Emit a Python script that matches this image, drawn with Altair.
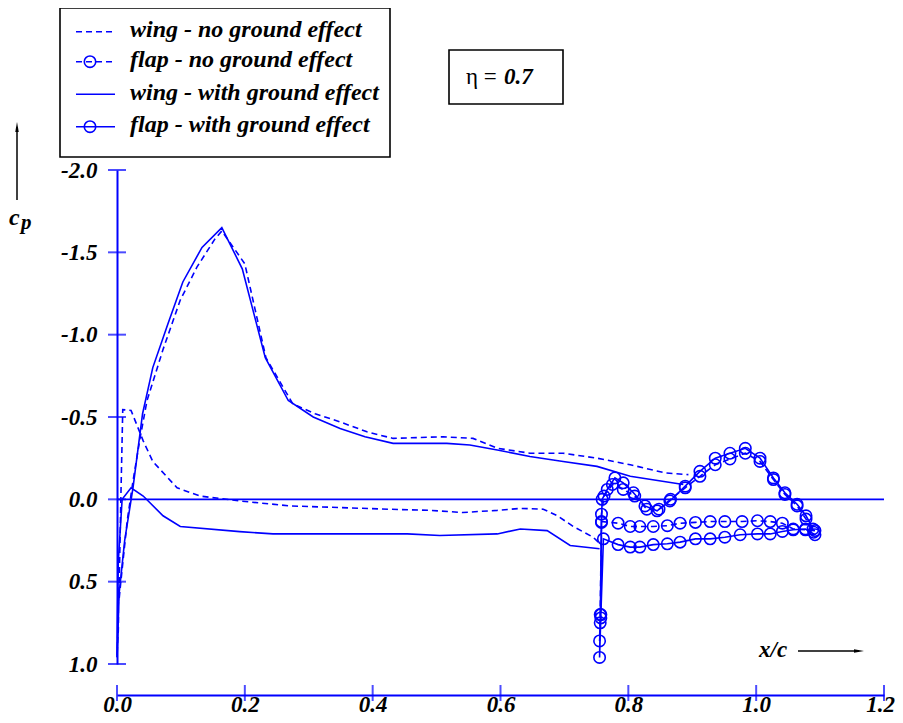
import altair as alt
import pandas as pd

# ---------------- data ----------------
wing_noge_x = [0.753, 0.745, 0.714, 0.689, 0.667, 0.631, 0.595, 0.541, 0.490, 0.424, 0.349, 0.271,
               0.192, 0.130, 0.094, 0.056, 0.041, 0.022, 0.009, 0.006, 0.002, 0.0, 0.003, 0.006,
               0.016, 0.025, 0.036, 0.047, 0.072, 0.099, 0.125, 0.153, 0.164, 0.200, 0.233, 0.275,
               0.310, 0.349, 0.391, 0.432, 0.510, 0.557, 0.595, 0.646, 0.698, 0.751, 0.803, 0.858, 0.894]
wing_noge_cp = [0.26, 0.23, 0.165, 0.10, 0.06, 0.055, 0.067, 0.08, 0.067, 0.06, 0.05, 0.04,
                0.01, -0.02, -0.07, -0.23, -0.355, -0.54, -0.545, 0.0, 0.80, 0.96, 0.62, 0.50,
                0.13, -0.11, -0.37, -0.60, -0.91, -1.21, -1.41, -1.58, -1.63, -1.43, -0.86, -0.58,
                -0.52, -0.47, -0.41, -0.37, -0.38, -0.37, -0.31, -0.28, -0.28, -0.25, -0.21, -0.16, -0.15]

wing_ge_x = [0.755, 0.709, 0.673, 0.631, 0.595, 0.505, 0.454, 0.349, 0.244, 0.192, 0.099, 0.072,
             0.041, 0.022, 0.008, 0.002, 0.0, 0.002, 0.012, 0.025, 0.040, 0.056, 0.080, 0.103,
             0.133, 0.164, 0.196, 0.232, 0.268, 0.307, 0.349, 0.388, 0.432, 0.471, 0.516, 0.552,
             0.595, 0.646, 0.698, 0.751, 0.803, 0.886]
wing_ge_cp = [0.30, 0.28, 0.19, 0.18, 0.21, 0.22, 0.21, 0.21, 0.21, 0.196, 0.165, 0.10,
              -0.02, -0.07, 0.0, 0.38, 0.95, 0.62, 0.25, -0.07, -0.52, -0.80, -1.07, -1.32,
              -1.53, -1.65, -1.40, -0.86, -0.60, -0.50, -0.43, -0.38, -0.34, -0.34, -0.34, -0.33,
              -0.30, -0.26, -0.23, -0.20, -0.14, -0.09]

flap_noge_x = [1.092, 1.077, 1.058, 1.041, 1.022, 1.002, 0.978, 0.951, 0.928, 0.905, 0.881, 0.861,
               0.839, 0.818, 0.803, 0.784, 0.758, 0.757, 0.755, 0.756, 0.758, 0.762, 0.775, 0.792,
               0.810, 0.829, 0.848, 0.866, 0.889, 0.912, 0.936, 0.959, 0.983, 1.006, 1.027, 1.045,
               1.064, 1.078, 1.090]
flap_noge_cp = [0.19, 0.185, 0.18, 0.145, 0.135, 0.13, 0.135, 0.135, 0.135, 0.14, 0.145, 0.16,
                0.165, 0.165, 0.165, 0.145, 0.135, 0.72, 0.86, 0.70, 0.09, -0.02, -0.09, -0.06,
                -0.02, 0.06, 0.06, 0.0, -0.07, -0.14, -0.21, -0.245, -0.28, -0.23, -0.12, -0.03,
                0.04, 0.12, 0.20]

flap_ge_x = [1.092, 1.077, 1.058, 1.041, 1.022, 1.002, 0.975, 0.951, 0.928, 0.905, 0.881, 0.861,
             0.839, 0.818, 0.803, 0.784, 0.761, 0.757, 0.755, 0.756, 0.758, 0.759, 0.767, 0.779,
             0.792, 0.808, 0.826, 0.845, 0.865, 0.889, 0.912, 0.936, 0.959, 0.983, 1.006, 1.027,
             1.045, 1.064, 1.078, 1.089]
flap_ge_cp = [0.215, 0.18, 0.185, 0.195, 0.21, 0.21, 0.215, 0.23, 0.24, 0.24, 0.26, 0.27,
              0.275, 0.29, 0.29, 0.275, 0.24, 0.70, 0.96, 0.75, 0.14, 0.0, -0.06, -0.13,
              -0.10, -0.04, 0.04, 0.07, 0.01, -0.08, -0.17, -0.25, -0.28, -0.31, -0.25, -0.13,
              -0.04, 0.03, 0.10, 0.18]

x_ticks = [0.0, 0.2, 0.4, 0.6, 0.8, 1.0, 1.2]
y_ticks = [-2.0, -1.5, -1.0, -0.5, 0.0, 0.5, 1.0]

legend_labels = ["wing - no ground effect", "flap - no ground effect",
                 "wing - with ground effect", "flap - with ground effect"]
eta_prefix = "\u03b7 = "
eta_value = "0.7"
y_title = ["c", "p"]
x_title = "x/c"

# ---------------- styles ----------------
BLUE = "#0000ff"
FONT = "Liberation Serif"
W, H = 767, 494
PAD_L, PAD_T = 109, 162
LABEL_EXPR = "replace(format(datum.value, '.1f'), '\u2212', '-')"


def series(xs, cps):
    return pd.DataFrame({"x": xs, "cp": cps, "i": list(range(len(xs)))})


xscale = alt.Scale(domain=[0, 1.2], nice=False, zero=False)
yscale = alt.Scale(domain=[-2, 1], nice=False, zero=False, reverse=True)

xaxis = alt.Axis(values=x_ticks, labelExpr=LABEL_EXPR, offset=31, grid=False, ticks=False,
                 domainColor=BLUE, domainWidth=2, labelFont=FONT, labelFontSize=23,
                 labelFontStyle="italic", labelFontWeight="bold", labelColor="black",
                 labelBaseline="alphabetic", labelPadding=16.5, labelFlush=False,
                 labelOffset={"condition": {"test": "datum.value >= 1.19", "value": -4}, "value": 0},
                 labelOverlap=False, labelBound=False, title=None)
yaxis = alt.Axis(values=y_ticks, labelExpr=LABEL_EXPR, grid=False, ticks=False,
                 domainColor=BLUE, domainWidth=2, labelFont=FONT, labelFontSize=23,
                 labelFontStyle="italic", labelFontWeight="bold", labelColor="black",
                 labelPadding=20, labelFlush=False, labelOverlap=False, labelBound=False,
                 title=None)

X = alt.X("x:Q", scale=xscale, axis=xaxis)
Y = alt.Y("cp:Q", scale=yscale, axis=yaxis)

layers = []

# zero line
layers.append(alt.Chart(pd.DataFrame({"cp": [0.0]})).mark_rule(color=BLUE, strokeWidth=1.6)
              .encode(y=Y))

# axis ticks crossing the axis lines
layers.append(alt.Chart(pd.DataFrame({"cp": y_ticks})).mark_tick(
    orient="horizontal", size=18, thickness=2, color=BLUE).encode(y=Y, x=alt.value(0)))
layers.append(alt.Chart(pd.DataFrame({"x": x_ticks})).mark_tick(
    orient="vertical", size=16, thickness=2, color=BLUE).encode(x=X, y=alt.value(H + 29)))

# curves
layers.append(alt.Chart(series(wing_noge_x, wing_noge_cp)).mark_line(
    color=BLUE, strokeWidth=1.6, strokeDash=[6, 4]).encode(x=X, y=Y, order="i:Q"))
layers.append(alt.Chart(series(wing_ge_x, wing_ge_cp)).mark_line(
    color=BLUE, strokeWidth=1.6).encode(x=X, y=Y, order="i:Q"))

fn = series(flap_noge_x, flap_noge_cp)
fg = series(flap_ge_x, flap_ge_cp)
layers.append(alt.Chart(fn).mark_line(color=BLUE, strokeWidth=1.6, strokeDash=[6, 4])
              .encode(x=X, y=Y, order="i:Q"))
layers.append(alt.Chart(fn).mark_point(color=BLUE, filled=False, size=130, strokeWidth=1.6, opacity=1)
              .encode(x=X, y=Y))
layers.append(alt.Chart(fg).mark_line(color=BLUE, strokeWidth=1.6).encode(x=X, y=Y, order="i:Q"))
layers.append(alt.Chart(fg).mark_point(color=BLUE, filled=False, size=130, strokeWidth=1.6, opacity=1)
              .encode(x=X, y=Y))

# ---------------- annotations (pixel positions relative to plot origin) ----------------
one = pd.DataFrame({"k": [0]})


def px(v):
    return alt.value(v - (PAD_L + 8))


def py(v):
    return alt.value(v - (PAD_T + 8))


# legend box
layers.append(alt.Chart(one).mark_rect(fill="white", stroke="black", strokeWidth=1.6)
              .encode(x=px(60), x2=px(390), y=py(8), y2=py(157)))
row_y = [31.7, 61.7, 94.3, 126.7]
for k, lab in enumerate(legend_labels):
    dashed = k in (0, 1)
    circ = k in (1, 3)
    ry = row_y[k]
    rule = alt.Chart(one).mark_rule(color=BLUE, strokeWidth=1.6,
                                    **({"strokeDash": [6, 4]} if dashed else {}))
    layers.append(rule.encode(x=px(76), x2=px(115), y=py(ry)))
    if circ:
        layers.append(alt.Chart(one).mark_point(color=BLUE, filled=False, size=130,
                                                strokeWidth=1.6, opacity=1)
                      .encode(x=px(90), y=py(ry)))
    layers.append(alt.Chart(one).mark_text(text=lab, font=FONT, fontSize=24, fontStyle="italic",
                                           fontWeight="bold", color="black", align="left",
                                           baseline="alphabetic")
                  .encode(x=px(130), y=py(ry + 5.5)))

# eta box
layers.append(alt.Chart(one).mark_rect(fill="white", stroke="black", strokeWidth=1.6)
              .encode(x=px(449), x2=px(563), y=py(50), y2=py(104)))
layers.append(alt.Chart(one).mark_text(text=eta_prefix, font=FONT, fontSize=23, color="black",
                                       align="left", baseline="alphabetic")
              .encode(x=px(466), y=py(84)))
layers.append(alt.Chart(one).mark_text(text=eta_value, font=FONT, fontSize=23, fontStyle="italic",
                                       fontWeight="bold", color="black", align="left",
                                       baseline="alphabetic")
              .encode(x=px(504), y=py(84)))

# y title c_p with arrow
layers.append(alt.Chart(one).mark_text(text=y_title[0], font=FONT, fontSize=24, fontStyle="italic",
                                       fontWeight="bold", color="black", align="left",
                                       baseline="alphabetic")
              .encode(x=px(9), y=py(225)))
layers.append(alt.Chart(one).mark_text(text=y_title[1], font=FONT, fontSize=21, fontStyle="italic",
                                       fontWeight="bold", color="black", align="left",
                                       baseline="alphabetic")
              .encode(x=px(21), y=py(229)))
layers.append(alt.Chart(one).mark_rule(color="black", strokeWidth=1.5)
              .encode(x=px(17), y=py(200), y2=py(127)))
layers.append(alt.Chart(one).mark_point(shape="M-0.35,1L0,-1L0.35,1Z", filled=True, color="black",
                                        size=100, opacity=1)
              .encode(x=px(17), y=py(127)))

# x title x/c with arrow
layers.append(alt.Chart(one).mark_text(text=x_title, font=FONT, fontSize=23, fontStyle="italic",
                                       fontWeight="bold", color="black", align="left",
                                       baseline="alphabetic")
              .encode(x=px(759), y=py(657)))
layers.append(alt.Chart(one).mark_rule(color="black", strokeWidth=1.5)
              .encode(x=px(798), x2=px(859), y=py(651)))
layers.append(alt.Chart(one).mark_point(shape="M-1,-0.35L1,0L-1,0.35Z", filled=True, color="black",
                                        size=100, opacity=1)
              .encode(x=px(859), y=py(651)))

chart = alt.layer(*layers).properties(
    width=W, height=H,
    padding={"left": PAD_L, "top": PAD_T, "right": 11, "bottom": 53},
    autosize=alt.AutoSizeParams(type="none"),
).configure_view(stroke=None)

chart.save("out.html", embed_options={"renderer": "svg", "actions": False})
